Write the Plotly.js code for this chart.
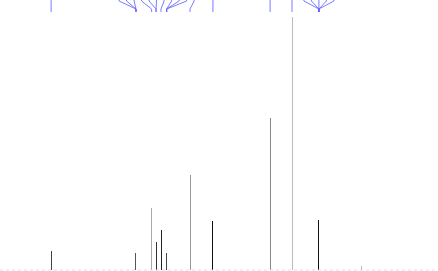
<!DOCTYPE html>
<html>
<head>
<meta charset="utf-8">
<script src="https://cdn.plot.ly/plotly-3.0.1.min.js"></script>
<style>html,body{margin:0;padding:0;background:#fff;}#chart{width:438px;height:271px;}</style>
</head>
<body>
<div id="chart"></div>
<script>
// Chemical shifts (ppm) of the peaks and their intensities
const peakPpm    = [175.5, 134.8, 127.3, 125.2, 122.8, 120.1, 108.9, 97.9, 70.5, 60.0, 47.1, 26.9];
const peakHeight = [19,    17,    62,    28,    40,    17,    95,    49,   152,  253,  50,   4];
// Peak-pick labels (ppm of each labelled line; multiplets repeat)
const labelPpm = [175.5, 134.8, 134.8, 134.8, 127.3, 125.2, 125.2, 122.8, 120.1, 120.1, 120.1,
                  108.9, 97.9, 70.5, 60.0, 47.1, 47.1, 47.1, 47.1, 47.1];

// styling
const shade = ['#444', '#555', '#aaa', '#333', '#222', '#444', '#999', '#111', '#888', '#bbb', '#111', '#bbb'];
const X0 = 200, X1 = -10;
const spacing = 3.6; // ppm between label tops

// spread labels into clusters
function spread(vals, d) {
  const v = vals.slice().sort((a, b) => b - a);
  let clusters = v.map(p => ({items: [p]}));
  let changed = true;
  function place(c) {
    const m = c.items.reduce((s, a) => s + a, 0) / c.items.length;
    const n = c.items.length;
    c.pos = c.items.map((_, i) => m + ((n - 1) / 2 - i) * d);
  }
  clusters.forEach(place);
  while (changed) {
    changed = false;
    for (let i = 0; i < clusters.length - 1; i++) {
      const a = clusters[i], b = clusters[i + 1];
      if (a.pos[a.pos.length - 1] - b.pos[0] < d) {
        const c = {items: a.items.concat(b.items)};
        place(c);
        clusters.splice(i, 2, c);
        changed = true;
        break;
      }
    }
  }
  const out = [];
  clusters.forEach(c => c.items.forEach((p, i) => out.push({peak: p, top: c.pos[i]})));
  return out;
}
const lab = spread(labelPpm, spacing);
const lx = [], ly = [];
lab.forEach(l => {
  lx.push(l.top, l.top, l.peak, l.peak, null);
  ly.push(-3, 1, 9, 12, null);
});

const traces = [
  {type: 'scatter', mode: 'lines', x: [X0, X1], y: [0, 0],
   line: {color: '#d8d8d8', width: 0.8, dash: 'dot'}, hoverinfo: 'skip'},
  {type: 'bar', x: peakPpm, y: peakHeight, width: peakPpm.map(() => 0.48),
   marker: {color: shade, line: {width: 0}}, hoverinfo: 'x+y'},
  {type: 'scatter', mode: 'lines', x: lx, y: ly, yaxis: 'y2',
   line: {color: '#5a5aff', width: 0.8}, hoverinfo: 'skip'}
];

const layout = {
  width: 438, height: 271,
  margin: {l: 0, r: 0, t: 0, b: 0},
  paper_bgcolor: '#fff', plot_bgcolor: '#fff',
  showlegend: false,
  bargap: 0,
  xaxis: {range: [X0, X1], visible: false, showgrid: false, zeroline: false},
  yaxis: {range: [-1, 270], visible: false, showgrid: false, zeroline: false},
  yaxis2: {range: [271, 0], overlaying: 'y', visible: false, showgrid: false, zeroline: false}
};

Plotly.newPlot('chart', traces, layout, {staticPlot: true});
</script>
</body>
</html>
